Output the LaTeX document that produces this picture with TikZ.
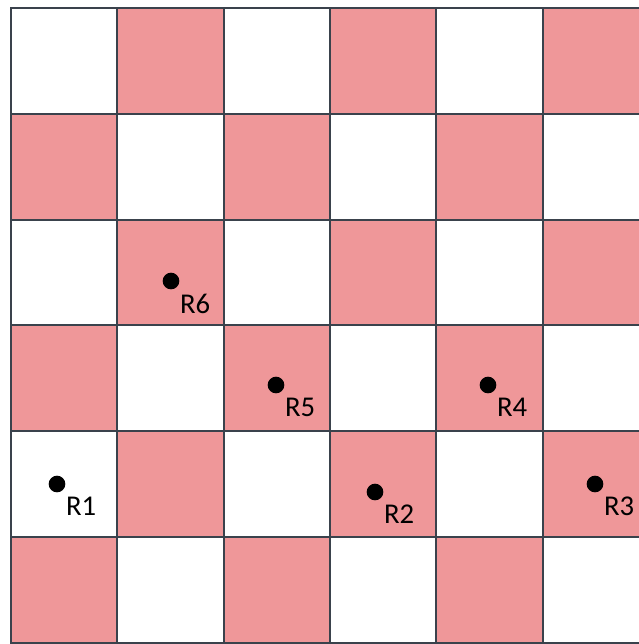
\documentclass[tikz,border=0pt]{standalone}
\usepackage{xcolor}
\usepackage{fontspec}
\setmainfont{Carlito}
\usepackage{tikz}
\usetikzlibrary{positioning}
\definecolor{cellpink}{RGB}{239,151,153}
\definecolor{gridline}{RGB}{58,66,76}

\begin{document}
\begin{tikzpicture}[
    x=0.75pt, y=-0.75pt,
    cell/.style={fill=#1, draw=gridline, line width=1.5pt},
    robot/.style={circle, fill=black, inner sep=0pt, minimum size=12.5pt},
    tag/.style={font=\fontsize{21.5}{25}\selectfont, inner sep=0pt}
]
\useasboundingbox (0,0) rectangle (639,644);
\clip (0,0) rectangle (639,644);

% checkerboard
\foreach \row in {0,...,5} {
  \foreach \col in {0,...,5} {
    \pgfmathparse{mod(\row+\col,2)==1 ? "cellpink" : "white"}
    \edef\shade{\pgfmathresult}
    \draw[cell=\shade] ({11+106.3*\col},{8+105.8*\row}) rectangle ++(106.3,105.8);
  }
}

% robots
\node[robot] (r1) at (57,484) {};
\node[robot] (r2) at (375,492) {};
\node[robot] (r3) at (595,484) {};
\node[robot] (r4) at (488,385) {};
\node[robot] (r5) at (276,385) {};
\node[robot] (r6) at (171,281) {};

\node[tag, below right=5pt and 2pt of r1] (t1) {R1};
\node[tag, below right=5pt and 2pt of r2] (t2) {R2};
\node[tag, below right=5pt and 2pt of r3] (t3) {R3};
\node[tag, below right=5pt and 2pt of r4] (t4) {R4};
\node[tag, below right=5pt and 2pt of r5] (t5) {R5};
\node[tag, below right=5pt and 2pt of r6] (t6) {R6};

\end{tikzpicture}
\end{document}
